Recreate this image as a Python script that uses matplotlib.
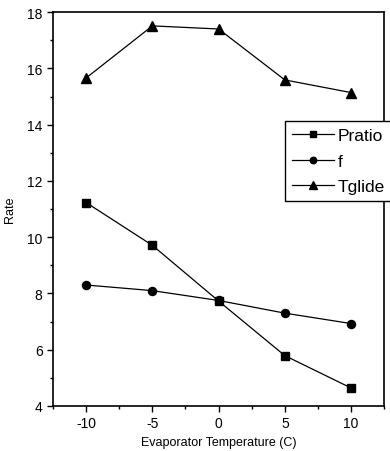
import matplotlib
matplotlib.use("Agg")
import matplotlib.pyplot as plt
from matplotlib.ticker import MultipleLocator

plt.rcParams['font.family'] = ['Liberation Sans', 'DejaVu Sans']

temps = [-10, -5, 0, 5, 10]
pratio = [11.23, 9.71, 7.73, 5.79, 4.64]
f_vals = [8.30, 8.10, 7.75, 7.30, 6.93]
tglide = [15.66, 17.51, 17.40, 15.59, 15.14]
xticks = [-10, -5, 0, 5, 10]
xticklabels = ["-10", "-5", "0", "5", "10"]
yticks = [4, 6, 8, 10, 12, 14, 16, 18]

fig = plt.figure(figsize=(3.9, 4.52), dpi=100)
ax = fig.add_axes([0.136, 0.0996, 0.849, 0.8714])

lw = 0.9
ax.plot(temps, pratio, color='black', lw=lw, marker='s', ms=5.5, label='Pratio')
ax.plot(temps, f_vals, color='black', lw=lw, marker='o', ms=5.8, label='f')
ax.plot(temps, tglide, color='black', lw=lw, marker='^', ms=6.5, label='Tglide')

ax.set_xlim(-12.5, 12.5)
ax.set_ylim(4, 18)
ax.set_xticks(xticks)
ax.set_xticklabels(xticklabels)
ax.set_yticks(yticks)
ax.xaxis.set_minor_locator(MultipleLocator(2.5))
ax.yaxis.set_minor_locator(MultipleLocator(1))
ax.tick_params(which='major', direction='out', length=4, width=1, labelsize=10)
ax.tick_params(which='minor', direction='out', length=2.5, width=1)
for s in ax.spines.values():
    s.set_linewidth(1.2)

ax.set_xlabel('Evaporator Temperature (C)', fontsize=9, labelpad=4)
ax.set_ylabel('Rate', fontsize=9, labelpad=8)

leg = fig.legend(loc='upper left', bbox_to_anchor=(0.731, 0.730),
                 bbox_transform=fig.transFigure, fontsize=12.5,
                 frameon=True, fancybox=False, shadow=False,
                 handlelength=2.4, handletextpad=0.25, borderpad=0.4,
                 labelspacing=0.6, borderaxespad=0, markerscale=0.8)
leg.get_frame().set_edgecolor('black')
leg.get_frame().set_linewidth(1.0)
leg.get_frame().set_alpha(1)

fig.savefig('out.png', dpi=100)
